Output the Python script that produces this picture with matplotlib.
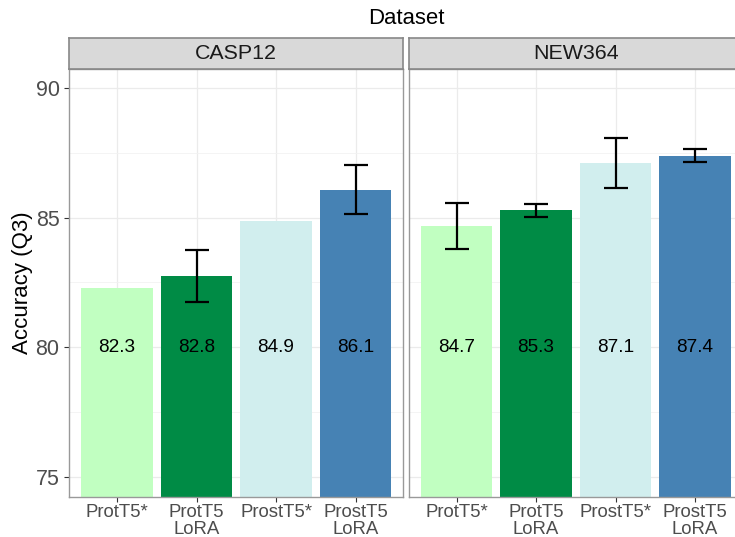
import matplotlib
matplotlib.use("Agg")
import matplotlib.pyplot as plt
import numpy as np

plt.rcParams['font.family'] = ['Liberation Sans', 'DejaVu Sans']

datasets = ["CASP12", "NEW364"]
models = ["ProtT5*", "ProtT5\nLoRA", "ProstT5*", "ProstT5\nLoRA"]
colors = ["#C1FFC1", "#008B45", "#D1EEEE", "#4682B4"]

# mean accuracy (Q3) and error (NaN = no error bar)
casp12_acc = [82.30, 82.76, 84.87, 86.08]
casp12_err = [np.nan, 1.00, np.nan, 0.95]
new364_acc = [84.68, 85.28, 87.11, 87.39]
new364_err = [0.90, 0.26, 0.98, 0.25]

accs = [casp12_acc, new364_acc]
errs = [casp12_err, new364_err]

W, H = 735, 537
fig = plt.figure(figsize=(W / 100, H / 100), dpi=100)

pw = 334.0
lefts = [69.3, 408.8]
top_px, bot_px = 69.3, 496.7
strip_h = 31.3

x = np.arange(1, 5)
for i, name in enumerate(datasets):
    ax = fig.add_axes([lefts[i] / W, (H - bot_px) / H, pw / W, (bot_px - top_px) / H])
    ax.set_axisbelow(True)
    ax.set_xlim(0.4, 4.6)
    ax.set_ylim(74.24, 90.72)
    ax.set_yticks([75, 80, 85, 90])
    ax.set_yticks([77.5, 82.5, 87.5], minor=True)
    ax.set_xticks(x)
    ax.grid(True, which='major', color='#EBEBEB', lw=0.9)
    ax.grid(True, which='minor', axis='y', color='#F2F2F2', lw=0.6)
    ax.bar(x, accs[i], width=0.9, color=colors, bottom=0)
    ax.errorbar(x, accs[i], yerr=errs[i], fmt='none', ecolor='black',
                elinewidth=1.6, capsize=8.6, capthick=1.6)
    for xi, v in zip(x, accs[i]):
        ax.text(xi, 80, f"{v:.1f}", ha='center', va='center', fontsize=13.7, color='black')
    ax.set_xticklabels(models, fontsize=13.4, color='#4D4D4D', linespacing=0.95)
    ax.tick_params(axis='both', which='major', length=3.5, color='#333333', width=0.8)
    ax.tick_params(axis='y', which='minor', length=0)
    ax.tick_params(axis='x', pad=2)
    if i == 0:
        ax.set_yticklabels(["75", "80", "85", "90"], fontsize=15.5, color='#4D4D4D')
        ax.set_ylabel("Accuracy (Q3)", fontsize=16, labelpad=2)
    else:
        ax.tick_params(axis='y', which='major', length=0, labelleft=False)
    for s in ax.spines.values():
        s.set_color('#999999')
        s.set_linewidth(1.0)

    sax = fig.add_axes([lefts[i] / W, (H - top_px) / H, pw / W, strip_h / H])
    sax.set_facecolor('#D9D9D9')
    sax.set_xticks([])
    sax.set_yticks([])
    for s in sax.spines.values():
        s.set_color('#888888')
        s.set_linewidth(1.2)
    sax.text(0.5, 0.5, name, ha='center', va='center', fontsize=15.4,
             color='#1A1A1A', transform=sax.transAxes)

fig.text((69.3 + 742.8) / 2 / W, 1 - 18.0 / H, "Dataset", ha='center', va='center', fontsize=15.9)

fig.savefig("out.png", dpi=100)
